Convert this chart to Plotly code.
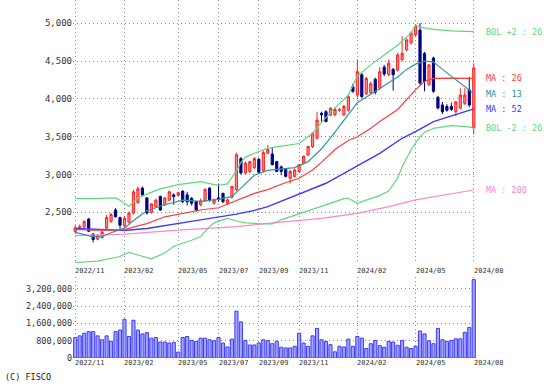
import plotly.graph_objects as go

# ---------------- data ----------------
weeks = list(range(90))
opens = [2245, 2275, 2305, 2410, 2210, 2145, 2165, 2290, 2380, 2530,
         2430, 2320, 2370, 2490, 2630, 2820, 2690, 2500, 2575, 2710,
         2600, 2660, 2730, 2725, 2780, 2730, 2685, 2640, 2600, 2650,
         2820, 2620, 2690, 2750, 2620, 2700, 2800, 3210, 3020, 3040,
         3090, 3200, 3050, 3280, 3270, 3170, 3100, 3070, 2950, 2975,
         3040, 3150, 3260, 3370, 3480, 3810, 3830, 3785, 3790, 3850,
         3790, 3850, 4160, 4050, 4320, 4070, 4080, 4260, 4140, 4420,
         4320, 4390, 4380, 4520, 4650, 4740, 4850, 4910, 4600, 4190,
         4540, 4020, 3920, 3900, 3900, 3830, 3880, 3940, 4120, 3620]
highs = [2330, 2340, 2400, 2425, 2225, 2210, 2255, 2465, 2490, 2555,
         2440, 2450, 2510, 2800, 2840, 2840, 2700, 2620, 2680, 2720,
         2700, 2790, 2750, 2770, 2790, 2770, 2700, 2650, 2680, 2820,
         2830, 2680, 2880, 2760, 2680, 2850, 3290, 3230, 3170, 3180,
         3230, 3220, 3320, 3390, 3360, 3180, 3120, 3080, 3060, 3080,
         3140, 3250, 3380, 3560, 3830, 3830, 3850, 3890, 3880, 3880,
         3920, 4070, 4200, 4520, 4340, 4290, 4230, 4280, 4420, 4450,
         4520, 4410, 4610, 4830, 4800, 4890, 4990, 5000, 4620, 4460,
         4560, 4040, 3960, 3930, 3950, 3970, 4140, 4140, 4290, 4470]
lows = [2215, 2260, 2290, 2240, 2100, 2130, 2150, 2280, 2360, 2430,
        2280, 2300, 2350, 2470, 2610, 2710, 2470, 2480, 2560, 2520,
        2580, 2650, 2600, 2715, 2620, 2590, 2590, 2510, 2580, 2640,
        2640, 2600, 2640, 2620, 2600, 2680, 2780, 3000, 3000, 3020,
        3070, 3010, 3030, 3270, 3120, 3030, 2990, 2960, 2880, 2960,
        3020, 3130, 3240, 3350, 3460, 3700, 3690, 3770, 3770, 3830,
        3770, 3830, 4080, 4000, 4010, 4050, 4060, 4060, 4120, 4300,
        4300, 4110, 4360, 4500, 4630, 4720, 4830, 4180, 4100, 4170,
        4080, 3860, 3800, 3830, 3840, 3770, 3860, 3920, 3890, 3530]
closes = [2295, 2310, 2375, 2250, 2140, 2195, 2240, 2430, 2470, 2440,
          2330, 2420, 2490, 2770, 2810, 2730, 2490, 2610, 2660, 2530,
          2690, 2770, 2710, 2760, 2640, 2640, 2620, 2530, 2650, 2800,
          2660, 2665, 2670, 2640, 2665, 2840, 3260, 3020, 3150, 3170,
          3210, 3030, 3290, 3330, 3130, 3040, 3040, 2975, 3040, 3060,
          3130, 3240, 3370, 3545, 3720, 3790, 3700, 3875, 3860, 3860,
          3900, 4030, 4100, 4360, 4030, 4270, 4200, 4090, 4360, 4330,
          4470, 4320, 4580, 4600, 4780, 4870, 4960, 4210, 4230, 4450,
          4100, 3880, 3830, 3850, 3860, 3960, 4050, 4050, 3920, 4410]
volumes = [950e3, 1026e3, 1147e3, 1222e3, 1222e3, 1026e3, 845e3, 1026e3, 770e3, 1222e3,
           1298e3, 1796e3, 996e3, 1750e3, 1298e3, 1117e3, 1177e3, 920e3, 950e3, 740e3,
           740e3, 694e3, 724e3, 272e3, 950e3, 996e3, 815e3, 770e3, 920e3, 920e3,
           845e3, 800e3, 950e3, 694e3, 513e3, 875e3, 2173e3, 1675e3, 815e3, 604e3,
           604e3, 694e3, 845e3, 800e3, 664e3, 770e3, 498e3, 468e3, 468e3, 543e3,
           1147e3, 694e3, 543e3, 1026e3, 1373e3, 845e3, 770e3, 619e3, 287e3, 543e3,
           513e3, 875e3, 543e3, 996e3, 920e3, 438e3, 664e3, 815e3, 573e3, 498e3,
           770e3, 740e3, 588e3, 815e3, 498e3, 438e3, 543e3, 1252e3, 1117e3, 800e3,
           664e3, 1373e3, 845e3, 770e3, 815e3, 890e3, 890e3, 1192e3, 1418e3, 3637e3]

tick_idx = [0, 11, 23, 32, 41, 50, 63, 76, 89]
tick_text = ["2022/11", "2023/02", "2023/05", "2023/07", "2023/09",
             "2023/11", "2024/02", "2024/05", "2024/08"]
price_ticks = [2500, 3000, 3500, 4000, 4500, 5000]
volume_ticks = [0, 800000, 1600000, 2400000, 3200000]

ma13_x = [0, 2, 4, 6, 8, 11, 13, 16, 20, 24, 28, 32, 35, 37, 40, 43, 46, 49, 52,
          55, 58, 61, 63, 66, 69, 72, 74, 76, 78, 80, 82, 85, 88, 89]
ma13_y = [2235, 2205, 2175, 2180, 2230, 2290, 2390, 2520, 2600, 2660, 2645, 2670,
          2710, 2820, 2990, 3055, 3075, 3090, 3170, 3340, 3560, 3800, 3950, 4060,
          4180, 4290, 4390, 4460, 4500, 4490, 4390, 4250, 4110, 4070]
ma26_x = [0, 4, 8, 11, 14, 16, 20, 24, 28, 32, 36, 40, 43, 46, 50, 53, 55, 58,
          61, 63, 66, 68, 72, 75, 76, 78, 80, 84, 89]
ma26_y = [2275, 2265, 2265, 2270, 2320, 2350, 2440, 2490, 2530, 2560, 2655, 2750,
          2800, 2870, 2950, 3060, 3160, 3330, 3450, 3500, 3610, 3700, 3860, 4050,
          4120, 4230, 4270, 4275, 4270]
ma52_x = [0, 4, 8, 11, 16, 21, 28, 36, 40, 43, 46, 50, 53, 56, 62, 68, 73, 76,
          80, 85, 89]
ma52_y = [2285, 2275, 2262, 2258, 2285, 2330, 2400, 2475, 2525, 2575, 2645, 2740,
          2810, 2884, 3082, 3280, 3479, 3567, 3699, 3787, 3867]
ma200_x = [0, 11, 23, 36, 46, 55, 63, 70, 76, 83, 89]
ma200_y = [2190, 2210, 2265, 2310, 2370, 2420, 2486, 2575, 2663, 2730, 2795]
bolu_x = [0, 4, 9, 10, 12, 14, 16, 19, 23, 28, 30, 32, 34, 35, 36, 37, 38, 40,
          43, 46, 50, 53, 55, 58, 61, 63, 66, 69, 72, 75, 76, 77, 80, 84, 89]
bolu_y = [2680, 2680, 2690, 2660, 2580, 2690, 2740, 2810, 2865, 2905, 2880, 2855,
          2875, 2960, 3050, 3160, 3230, 3280, 3345, 3375, 3410, 3545, 3690, 3880,
          4050, 4300, 4450, 4580, 4710, 4870, 4975, 4950, 4920, 4900, 4890]
boll_x = [0, 5, 10, 12, 14, 17, 20, 22, 26, 28, 30, 31, 33, 34, 36, 38, 41, 44,
          46, 50, 53, 57, 60, 61, 63, 65, 68, 70, 72, 73, 75, 77, 78, 80, 84, 88, 89]
boll_y = [1835, 1855, 1915, 1970, 1935, 1885, 1960, 2050, 2130, 2180, 2310, 2360,
          2400, 2420, 2385, 2360, 2350, 2345, 2400, 2480, 2540, 2620, 2680, 2685,
          2619, 2660, 2720, 2780, 2950, 3100, 3330, 3500, 3560, 3611, 3645, 3630, 3611]

# ---------------- styling ----------------
W, H = 559, 391
L, R, T, B = 73, 83, 0, 33
PW, PH = W - L - R, H - T - B
MONO = "DejaVu Sans Mono"
GRID = "#8c8c8c"
C_UP_LINE, C_UP_FILL = "#ff2020", "#ff8a8a"
C_DN = "#000080"
C_MA13, C_MA26, C_MA52, C_MA200, C_BOL = "#2f9898", "#ff3c3c", "#3a3aff", "#ff88c8", "#62d67e"


def py(pixel_y):
    return (T + PH - pixel_y) / PH


def px(pixel_x):
    return (pixel_x - L) / PW


fig = go.Figure()

for xs, ys, col, w in [(ma200_x, ma200_y, C_MA200, 1.2), (boll_x, boll_y, C_BOL, 1.2),
                       (bolu_x, bolu_y, C_BOL, 1.2), (ma52_x, ma52_y, C_MA52, 1.4),
                       (ma26_x, ma26_y, C_MA26, 1.2), (ma13_x, ma13_y, C_MA13, 1.2)]:
    fig.add_trace(go.Scatter(x=xs, y=ys, mode="lines", line=dict(color=col, width=w),
                             xaxis="x", yaxis="y", hoverinfo="skip", showlegend=False))

fig.add_trace(go.Candlestick(
    x=weeks, open=opens, high=highs, low=lows, close=closes,
    increasing=dict(line=dict(color=C_UP_LINE, width=1), fillcolor=C_UP_FILL),
    decreasing=dict(line=dict(color=C_DN, width=1), fillcolor=C_DN),
    xaxis="x", yaxis="y", hoverinfo="skip", showlegend=False))

fig.add_trace(go.Bar(x=weeks, y=volumes, width=0.7,
                     marker=dict(color="#a4a4ff", line=dict(color="#3a3aff", width=1)),
                     xaxis="x2", yaxis="y2", hoverinfo="skip", showlegend=False))

main_bottom, vol_top = 263, 277
axis_common = dict(showline=False, zeroline=False, showgrid=True, gridcolor=GRID,
                   gridwidth=1, griddash="1px,3px", ticks="")
fig.update_layout(
    width=W, height=H, margin=dict(l=L, r=R, t=T, b=B),
    paper_bgcolor="white", plot_bgcolor="white", showlegend=False,
    xaxis=dict(domain=[0, 1], range=[-0.5, 89.5], tickvals=tick_idx, showticklabels=False,
               anchor="y", rangeslider=dict(visible=False), **axis_common),
    xaxis2=dict(domain=[0, 1], range=[-0.5, 89.5], tickvals=tick_idx, showticklabels=False,
                anchor="y2", matches="x", **axis_common),
    yaxis=dict(domain=[py(main_bottom), 1], range=[1829, 5308], tickvals=price_ticks,
               tickformat=",", tickfont=dict(family=MONO, size=9, color="#333333"),
               anchor="x", **axis_common),
    yaxis2=dict(domain=[0, py(vol_top)], range=[0, 3.756e6], tickvals=volume_ticks,
                tickformat=",", tickfont=dict(family=MONO, size=8.5, color="#333333"),
                anchor="x2", **axis_common),
)

ann = []
for i, t in zip(tick_idx, tick_text):
    for yy in (py(271), py(363.5)):
        ann.append(dict(x=i, xref="x", y=yy, yref="paper", text=t, showarrow=False,
                        xanchor="left", yanchor="middle", xshift=-2,
                        font=dict(family=MONO, size=7, color="#333333")))

right_labels = [("BOL +2 : 26", bolu_y[-1], C_BOL), ("MA : 26", ma26_y[-1], C_MA26),
                ("MA : 13", ma13_y[-1], C_MA13), ("MA : 52", ma52_y[-1], C_MA52),
                ("BOL -2 : 26", boll_y[-1], C_BOL), ("MA : 200", ma200_y[-1], C_MA200)]
for t, v, c in right_labels:
    ann.append(dict(x=px(484), xref="paper", y=v, yref="y", text=t, showarrow=False,
                    xanchor="left", yanchor="middle",
                    font=dict(family=MONO, size=8.5, color=c)))

ann.append(dict(x=px(3), xref="paper", y=py(377), yref="paper", text="(C) FISCO",
                showarrow=False, xanchor="left", yanchor="middle",
                font=dict(family=MONO, size=8.5, color="#222222")))
fig.update_layout(annotations=ann)

fig.write_html("out.html", config={"displayModeBar": False},
               post_script="document.body.style.margin='0';document.body.style.overflow='hidden';")
